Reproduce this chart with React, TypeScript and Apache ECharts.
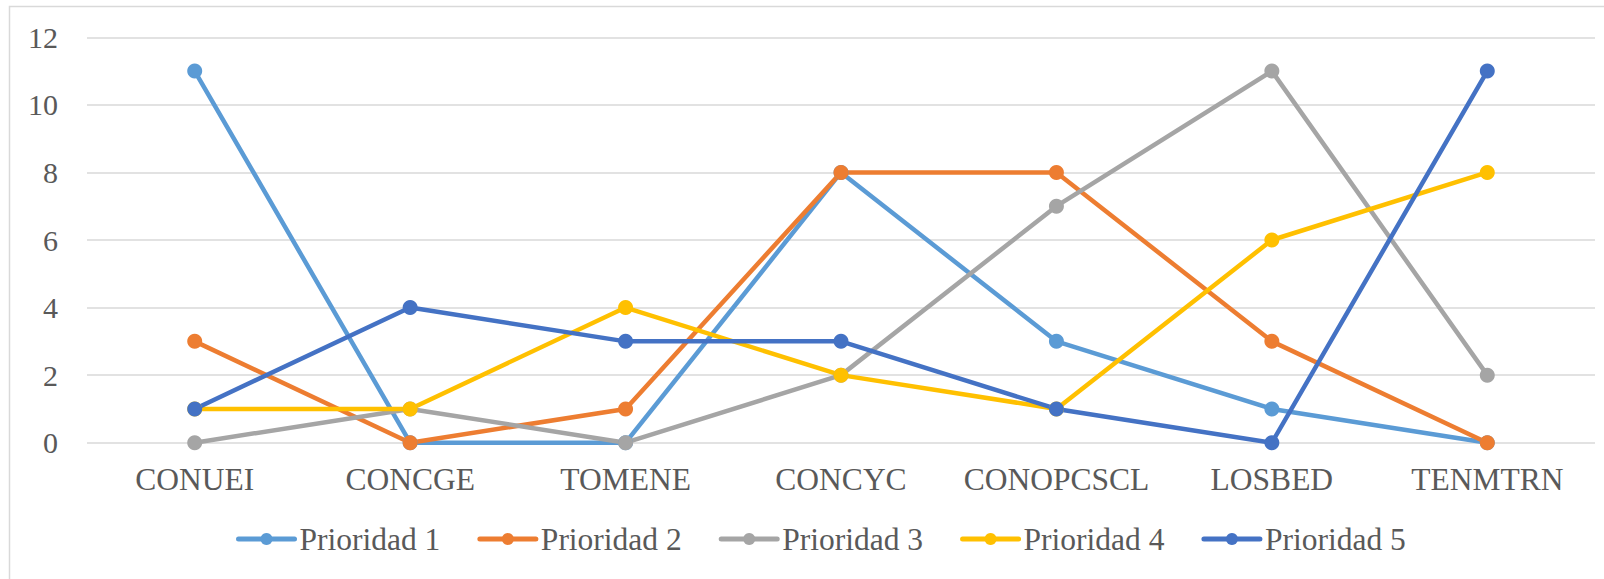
import React, { useEffect, useRef } from "react";
import * as echarts from "echarts";

const categories = ["CONUEI", "CONCGE", "TOMENE", "CONCYC", "CONOPCSCL", "LOSBED", "TENMTRN"];
const seriesNames = ["Prioridad 1", "Prioridad 2", "Prioridad 3", "Prioridad 4", "Prioridad 5"];
const p1 = [11, 0, 0, 8, 3, 1, 0];
const p2 = [3, 0, 1, 8, 8, 3, 0];
const p3 = [0, 1, 0, 2, 7, 11, 2];
const p4 = [1, 1, 4, 2, 1, 6, 8];
const p5 = [1, 4, 3, 3, 1, 0, 11];
const colors = ["#5B9BD5", "#ED7D31", "#A5A5A5", "#FFC000", "#4472C4"];

const FONT = "'Liberation Serif', 'Times New Roman', serif";
const TEXT = "#595959";

export default function App() {
  const ref = useRef<HTMLDivElement>(null);
  useEffect(() => {
    if (!ref.current) return;
    const chart = echarts.init(ref.current, undefined, { renderer: "svg" });
    const data = [p1, p2, p3, p4, p5];
    chart.setOption({
      animation: false,
      backgroundColor: "#ffffff",
      color: colors,
      textStyle: { fontFamily: FONT },
      graphic: [
        {
          type: "rect",
          shape: { x: 9.5, y: 6.5, width: 1700, height: 700 },
          style: { fill: "none", stroke: "#d9d9d9", lineWidth: 1.5 },
          silent: true,
        },
      ],
      grid: { left: 87, right: 9, top: 37.3, bottom: 136.3, containLabel: false },
      legend: {
        left: 236,
        top: 523,
        padding: 0,
        itemWidth: 56,
        itemHeight: 15,
        itemGap: 37,
        lineStyle: { width: 5, cap: "round" },
        textStyle: { fontFamily: FONT, fontSize: 31.5, color: TEXT },
        data: seriesNames,
      },
      xAxis: {
        type: "category",
        data: categories,
        boundaryGap: true,
        axisLine: { show: false },
        axisTick: { show: false },
        axisLabel: { fontFamily: FONT, fontSize: 31.5, color: TEXT, margin: 21, interval: 0 },
      },
      yAxis: {
        type: "value",
        min: 0,
        max: 12,
        interval: 2,
        axisLine: { show: false },
        axisTick: { show: false },
        splitLine: { lineStyle: { color: "#d9d9d9", width: 1.5 } },
        axisLabel: { fontFamily: FONT, fontSize: 30, color: TEXT, margin: 29 },
      },
      series: seriesNames.map((name, i) => ({
        name,
        type: "line",
        data: data[i],
        symbol: "circle",
        symbolSize: 15,
        lineStyle: { width: 4.5, color: colors[i] },
        itemStyle: { color: colors[i] },
      })),
    });
    return () => chart.dispose();
  }, []);
  return (
    <div
      ref={ref}
      style={{ position: "fixed", left: 0, top: 0, width: 1604, height: 579, background: "#fff" }}
    />
  );
}
